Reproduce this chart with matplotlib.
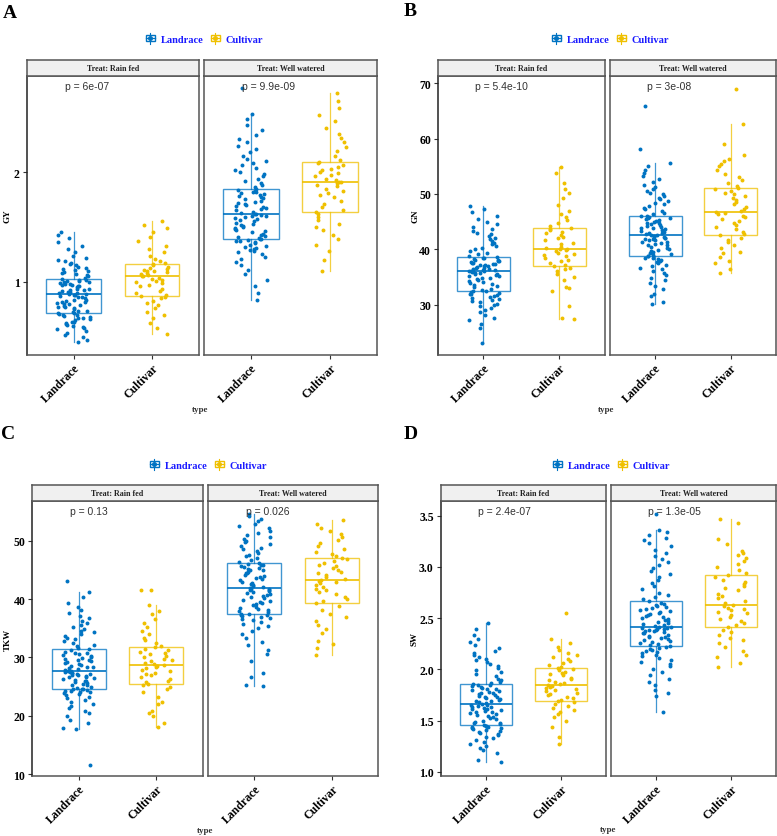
import numpy as np
import matplotlib
matplotlib.use("Agg")
import matplotlib.pyplot as plt
from matplotlib.legend_handler import HandlerBase
from matplotlib.lines import Line2D
from matplotlib.patches import Rectangle

W, H = 777, 837
SERIF = "Liberation Serif"
SANS = "Liberation Sans"
BLUE = "#0073C2"
GOLD = "#EFC000"

types = ["Landrace", "Cultivar"]
treats = ["Treat: Rain fed", "Treat: Well watered"]

# ---- GY (panel A) ----
gy_rf_landrace = [0.45, 0.47, 0.50, 0.52, 0.54, 0.55, 0.57, 0.58, 0.59, 0.60, 0.61, 0.62, 0.63, 0.64, 0.64, 0.65, 0.66, 0.67, 0.67, 0.68, 0.69, 0.70, 0.70, 0.71, 0.72,
                  0.72, 0.73, 0.74, 0.74, 0.75, 0.76, 0.77, 0.77, 0.78, 0.79, 0.80, 0.80, 0.81, 0.82, 0.82, 0.83, 0.84, 0.84, 0.85, 0.86, 0.86, 0.87, 0.88, 0.88, 0.89,
                  0.89, 0.90, 0.90, 0.91, 0.91, 0.92, 0.93, 0.93, 0.94, 0.94, 0.95, 0.96, 0.96, 0.97, 0.97, 0.98, 0.98, 0.99, 1.00, 1.00, 1.01, 1.01, 1.02, 1.02, 1.03,
                  1.04, 1.05, 1.06, 1.07, 1.08, 1.09, 1.10, 1.11, 1.12, 1.13, 1.14, 1.15, 1.16, 1.17, 1.19, 1.20, 1.22, 1.24, 1.27, 1.30, 1.33, 1.36, 1.40, 1.43, 1.45]
gy_rf_cultivar = [0.53, 0.58, 0.63, 0.67, 0.70, 0.73, 0.76, 0.79, 0.81, 0.83, 0.85, 0.86, 0.87,
                  0.88, 0.90, 0.92, 0.94, 0.96, 0.97, 0.99, 1.00, 1.01, 1.02, 1.03, 1.04, 1.05,
                  1.05, 1.06, 1.07, 1.08, 1.09, 1.10, 1.10, 1.11, 1.12, 1.13, 1.14, 1.15, 1.16,
                  1.17, 1.19, 1.21, 1.24, 1.27, 1.30, 1.33, 1.37, 1.41, 1.45, 1.49, 1.52, 1.55]
gy_ww_landrace = [0.84, 0.90, 0.96, 1.02, 1.07, 1.11, 1.15, 1.18, 1.21, 1.23, 1.25, 1.27, 1.28, 1.29, 1.30, 1.31, 1.32, 1.33, 1.34, 1.35, 1.36, 1.37, 1.37, 1.38, 1.39,
                  1.39, 1.40, 1.41, 1.42, 1.43, 1.44, 1.45, 1.46, 1.47, 1.48, 1.49, 1.50, 1.51, 1.52, 1.53, 1.54, 1.55, 1.56, 1.57, 1.58, 1.59, 1.60, 1.60, 1.61, 1.62,
                  1.62, 1.63, 1.64, 1.65, 1.66, 1.67, 1.68, 1.69, 1.70, 1.71, 1.72, 1.73, 1.74, 1.75, 1.76, 1.77, 1.78, 1.79, 1.80, 1.81, 1.82, 1.82, 1.83, 1.84, 1.85,
                  1.86, 1.88, 1.90, 1.92, 1.94, 1.96, 1.98, 2.00, 2.02, 2.04, 2.06, 2.08, 2.10, 2.12, 2.15, 2.18, 2.21, 2.24, 2.27, 2.30, 2.34, 2.38, 2.43, 2.48, 2.53, 2.76]
gy_ww_cultivar = [1.10, 1.20, 1.28, 1.34, 1.39, 1.43, 1.47, 1.50, 1.53, 1.56, 1.59, 1.62, 1.64,
                  1.65, 1.68, 1.71, 1.74, 1.77, 1.79, 1.81, 1.83, 1.85, 1.87, 1.88, 1.90, 1.91,
                  1.91, 1.93, 1.94, 1.96, 1.97, 1.99, 2.00, 2.02, 2.03, 2.05, 2.06, 2.08, 2.09,
                  2.11, 2.15, 2.19, 2.23, 2.27, 2.31, 2.35, 2.40, 2.46, 2.52, 2.58, 2.65, 2.72]
# box stats: whisker low, q1, median, q3, whisker high  (rain fed, well watered)
gy_box_landrace = [[0.45, 0.72, 0.89, 1.03, 1.45], [0.84, 1.39, 1.62, 1.845, 2.53]]
gy_box_cultivar = [[0.53, 0.87, 1.05, 1.16, 1.55], [1.10, 1.64, 1.91, 2.09, 2.72]]
gy_p = ["p = 6e-07", "p = 9.9e-09"]

# ---- GN (panel B) ----
gn_rf_landrace = [23.1, 25.8, 26.5, 27.3, 27.6, 28.1, 28.6, 29.0, 29.4, 29.7, 30.0, 30.2, 30.4, 30.6, 30.8, 31.0, 31.2, 31.4, 31.6, 31.8, 31.9, 32.0, 32.1, 32.3, 32.4,
                  32.5, 32.7, 32.9, 33.1, 33.3, 33.5, 33.7, 33.9, 34.1, 34.3, 34.5, 34.6, 34.8, 34.9, 35.1, 35.2, 35.4, 35.5, 35.6, 35.7, 35.8, 35.9, 36.0, 36.0, 36.1,
                  36.1, 36.2, 36.3, 36.4, 36.5, 36.6, 36.7, 36.8, 36.9, 37.0, 37.1, 37.2, 37.3, 37.4, 37.5, 37.6, 37.7, 37.8, 37.9, 38.0, 38.1, 38.2, 38.4, 38.5, 38.6,
                  38.8, 39.1, 39.4, 39.7, 40.0, 40.3, 40.6, 40.9, 41.2, 41.5, 41.8, 42.1, 42.4, 42.7, 43.0, 43.3, 43.7, 44.1, 44.5, 45.0, 45.5, 46.1, 46.7, 47.3, 47.9]
gn_rf_cultivar = [27.4, 27.6, 29.8, 32.4, 33.0, 33.2, 34.5, 35.0, 35.6, 36.0, 36.4, 36.7, 36.9,
                  37.1, 37.5, 37.8, 38.1, 38.4, 38.7, 38.9, 39.2, 39.4, 39.6, 39.8, 40.0, 40.1,
                  40.2, 40.5, 40.9, 41.2, 41.6, 42.0, 42.3, 42.6, 42.9, 43.1, 43.4, 43.6, 43.8,
                  44.2, 44.8, 45.3, 45.9, 46.4, 47.0, 48.0, 49.2, 50.1, 50.8, 52.0, 53.8, 54.8]
gn_ww_landrace = [30.1, 30.4, 31.5, 32.0, 32.9, 33.3, 33.9, 34.4, 34.9, 35.3, 35.7, 36.1, 36.4, 36.7, 37.0, 37.2, 37.5, 37.7, 37.9, 38.1, 38.3, 38.4, 38.5, 38.7, 38.8,
                  38.9, 39.1, 39.3, 39.5, 39.7, 39.9, 40.1, 40.3, 40.5, 40.7, 40.8, 41.0, 41.1, 41.3, 41.4, 41.6, 41.7, 41.8, 41.9, 42.0, 42.1, 42.2, 42.3, 42.4, 42.5,
                  42.6, 42.7, 42.9, 43.0, 43.2, 43.3, 43.5, 43.6, 43.8, 43.9, 44.1, 44.2, 44.4, 44.5, 44.7, 44.8, 45.0, 45.1, 45.3, 45.4, 45.6, 45.7, 45.9, 46.0, 46.1,
                  46.3, 46.6, 46.9, 47.2, 47.5, 47.8, 48.1, 48.4, 48.7, 49.0, 49.3, 49.6, 49.9, 50.2, 50.5, 50.9, 51.3, 51.7, 52.2, 52.7, 53.2, 53.8, 54.4, 55.0, 55.5, 58.1, 65.9]
gn_ww_cultivar = [35.7, 36.4, 37.5, 37.9, 38.6, 39.3, 39.5, 40.2, 40.8, 41.3, 41.7, 42.1, 42.5,
                  42.8, 43.2, 43.6, 44.0, 44.4, 44.8, 45.1, 45.4, 45.8, 46.1, 46.3, 46.5, 46.7,
                  46.9, 47.3, 47.7, 48.1, 48.5, 48.9, 49.2, 49.6, 49.9, 50.2, 50.5, 50.8, 51.0,
                  51.4, 52.0, 52.6, 53.0, 53.6, 54.3, 55.0, 55.4, 55.9, 56.3, 57.1, 59.0, 62.7, 68.9]
gn_box_landrace = [[23.1, 32.4, 36.1, 38.6, 47.9], [30.1, 38.8, 42.5, 46.1, 55.5]]
gn_box_cultivar = [[27.4, 36.9, 40.1, 43.8, 54.8], [35.7, 42.5, 46.7, 51.0, 62.7]]
gn_p = ["p = 5.4e-10", "p = 3e-08"]

# ---- TKW (panel C) ----
tkw_rf_landrace = [11.5, 17.7, 17.9, 18.8, 19.3, 19.9, 20.4, 20.8, 21.3, 21.7, 22.0, 22.4, 22.7, 23.0, 23.2, 23.5, 23.7, 23.9, 24.0, 24.1, 24.2, 24.3, 24.4, 24.5, 24.5,
                   24.6, 24.8, 25.0, 25.2, 25.3, 25.5, 25.6, 25.8, 25.9, 26.0, 26.2, 26.3, 26.4, 26.6, 26.7, 26.8, 26.9, 27.0, 27.1, 27.2, 27.3, 27.4, 27.5, 27.5, 27.6,
                   27.7, 27.8, 28.0, 28.1, 28.3, 28.4, 28.6, 28.7, 28.9, 29.0, 29.2, 29.3, 29.5, 29.6, 29.8, 29.9, 30.1, 30.2, 30.4, 30.5, 30.7, 30.8, 31.0, 31.2, 31.4,
                   31.6, 31.9, 32.2, 32.5, 32.8, 33.1, 33.4, 33.7, 34.0, 34.3, 34.6, 34.9, 35.2, 35.5, 35.9, 36.3, 36.7, 37.1, 37.6, 38.1, 38.6, 39.3, 40.3, 41.2, 43.1]
tkw_rf_cultivar = [18.1, 18.8, 19.9, 20.5, 20.8, 22.0, 22.3, 23.2, 24.1, 24.6, 25.0, 25.3, 25.5,
                   25.7, 26.0, 26.3, 26.6, 26.9, 27.2, 27.4, 27.7, 27.9, 28.2, 28.4, 28.6, 28.7,
                   28.8, 29.0, 29.3, 29.5, 29.8, 30.0, 30.3, 30.5, 30.8, 31.0, 31.3, 31.5, 31.7,
                   32.0, 32.4, 32.9, 33.4, 34.0, 34.6, 35.2, 35.9, 36.6, 37.4, 38.0, 38.9, 41.5, 41.6]
tkw_ww_landrace = [25.1, 25.3, 26.7, 27.3, 29.4, 30.5, 31.2, 32.2, 32.6, 33.4, 34.0, 34.6, 35.0, 35.4, 35.8, 36.1, 36.4, 36.6, 36.8, 37.0, 37.1, 37.2, 37.3, 37.4, 37.5,
                   37.7, 37.9, 38.1, 38.3, 38.5, 38.7, 38.9, 39.1, 39.3, 39.5, 39.7, 39.9, 40.1, 40.3, 40.5, 40.7, 40.8, 41.0, 41.2, 41.3, 41.5, 41.6, 41.7, 41.8, 41.9,
                   42.0, 42.2, 42.4, 42.6, 42.8, 43.0, 43.2, 43.4, 43.6, 43.8, 44.0, 44.2, 44.4, 44.5, 44.7, 44.9, 45.0, 45.2, 45.4, 45.5, 45.7, 45.8, 45.9, 46.0, 46.1,
                   46.4, 46.7, 47.0, 47.3, 47.6, 47.9, 48.2, 48.5, 48.8, 49.1, 49.4, 49.7, 50.0, 50.3, 50.6, 50.9, 51.3, 51.7, 52.1, 52.5, 52.9, 53.4, 53.8, 54.2, 54.6]
tkw_ww_cultivar = [30.4, 31.6, 32.3, 32.8, 34.2, 34.8, 35.5, 36.3, 36.9, 37.5, 38.2, 38.8, 39.3,
                   39.6, 40.0, 40.4, 40.8, 41.2, 41.5, 41.8, 42.1, 42.4, 42.7, 42.9, 43.1, 43.3,
                   43.5, 43.8, 44.1, 44.4, 44.7, 45.0, 45.3, 45.6, 45.9, 46.2, 46.5, 46.8, 47.0,
                   47.3, 47.7, 48.1, 48.6, 49.1, 49.6, 50.1, 50.6, 51.1, 51.6, 52.2, 52.9, 53.5]
tkw_box_landrace = [[17.7, 24.5, 27.6, 31.4, 41.25], [25.1, 37.5, 41.9, 46.1, 54.6]]
tkw_box_cultivar = [[18.1, 25.5, 28.7, 31.7, 38.9], [30.45, 39.3, 43.3, 47.0, 53.5]]
tkw_p = ["p = 0.13", "p = 0.026"]

# ---- SW (panel D) ----
sw_rf_landrace = [1.09, 1.11, 1.18, 1.21, 1.23, 1.25, 1.27, 1.29, 1.31, 1.33, 1.34, 1.36, 1.37, 1.38, 1.39, 1.40, 1.41, 1.42, 1.43, 1.43, 1.44, 1.44, 1.45, 1.45, 1.46,
                  1.47, 1.48, 1.48, 1.49, 1.50, 1.51, 1.52, 1.53, 1.54, 1.55, 1.56, 1.57, 1.58, 1.58, 1.59, 1.60, 1.61, 1.61, 1.62, 1.63, 1.63, 1.64, 1.65, 1.65, 1.66,
                  1.67, 1.68, 1.69, 1.69, 1.70, 1.71, 1.72, 1.73, 1.73, 1.74, 1.75, 1.76, 1.77, 1.77, 1.78, 1.79, 1.80, 1.81, 1.81, 1.82, 1.83, 1.84, 1.85, 1.85, 1.86,
                  1.87, 1.88, 1.90, 1.91, 1.93, 1.95, 1.97, 1.99, 2.01, 2.03, 2.05, 2.07, 2.09, 2.10, 2.12, 2.14, 2.16, 2.18, 2.21, 2.24, 2.27, 2.30, 2.34, 2.39, 2.45]
sw_rf_cultivar = [1.27, 1.34, 1.44, 1.50, 1.53, 1.56, 1.58, 1.60, 1.62, 1.64, 1.66, 1.68, 1.69,
                  1.70, 1.72, 1.73, 1.75, 1.76, 1.77, 1.79, 1.80, 1.81, 1.82, 1.83, 1.84, 1.85,
                  1.86, 1.87, 1.88, 1.90, 1.91, 1.92, 1.94, 1.95, 1.96, 1.97, 1.99, 2.00, 2.01,
                  2.02, 2.04, 2.06, 2.08, 2.10, 2.12, 2.14, 2.16, 2.19, 2.22, 2.26, 2.30, 2.55]
sw_ww_landrace = [1.58, 1.74, 1.77, 1.80, 1.85, 1.88, 1.91, 1.94, 1.97, 2.00, 2.03, 2.05, 2.07, 2.09, 2.11, 2.13, 2.14, 2.16, 2.17, 2.18, 2.19, 2.20, 2.21, 2.22, 2.23,
                  2.24, 2.25, 2.26, 2.27, 2.28, 2.29, 2.30, 2.31, 2.32, 2.32, 2.33, 2.34, 2.35, 2.35, 2.36, 2.37, 2.37, 2.38, 2.38, 2.39, 2.39, 2.40, 2.40, 2.41, 2.41,
                  2.42, 2.43, 2.44, 2.45, 2.46, 2.47, 2.48, 2.49, 2.50, 2.51, 2.52, 2.53, 2.54, 2.55, 2.56, 2.57, 2.58, 2.59, 2.60, 2.61, 2.62, 2.63, 2.64, 2.65, 2.67,
                  2.69, 2.71, 2.73, 2.75, 2.78, 2.81, 2.84, 2.87, 2.90, 2.93, 2.96, 2.99, 3.02, 3.05, 3.08, 3.11, 3.14, 3.17, 3.20, 3.23, 3.26, 3.28, 3.31, 3.34, 3.36, 3.52]
sw_ww_cultivar = [2.02, 2.06, 2.12, 2.14, 2.18, 2.22, 2.26, 2.29, 2.31, 2.34, 2.36, 2.38, 2.41,
                  2.43, 2.45, 2.47, 2.49, 2.51, 2.53, 2.55, 2.56, 2.58, 2.59, 2.60, 2.62, 2.63,
                  2.65, 2.67, 2.70, 2.72, 2.74, 2.77, 2.79, 2.81, 2.83, 2.85, 2.87, 2.90, 2.92,
                  2.94, 2.97, 3.00, 3.03, 3.06, 3.09, 3.12, 3.14, 3.16, 3.22, 3.27, 3.43, 3.47]
sw_box_landrace = [[1.09, 1.46, 1.66, 1.86, 2.45], [1.58, 2.23, 2.41, 2.67, 3.36]]
sw_box_cultivar = [[1.27, 1.69, 1.85, 2.01, 2.30], [2.02, 2.41, 2.63, 2.92, 3.47]]
sw_p = ["p = 2.4e-07", "p = 1.3e-05"]

# panel table built from the arrays above; geometry in pixels of the reference
panels = [
    dict(letter="A", ylab="GY", ylim=(0.336, 2.873), ticks=[1, 2], fmt="{:.0f}",
         pts=[[gy_rf_landrace, gy_rf_cultivar], [gy_ww_landrace, gy_ww_cultivar]],
         box=[gy_box_landrace, gy_box_cultivar], p=gy_p,
         facets=[(26.7, 199.0), (203.6, 377.3)], top=77, bot=356, lx=3, ly=13,
         leg=(204, 40), ylx=8, typ=(200, 410)),
    dict(letter="B", ylab="GN", ylim=(20.9, 71.3), ticks=[30, 40, 50, 60, 70], fmt="{:.0f}",
         pts=[[gn_rf_landrace, gn_rf_cultivar], [gn_ww_landrace, gn_ww_cultivar]],
         box=[gn_box_landrace, gn_box_cultivar], p=gn_p,
         facets=[(438.0, 604.7), (609.7, 776.0)], top=77, bot=356, lx=404, ly=12,
         leg=(610, 40), ylx=415, typ=(606, 410)),
    dict(letter="C", ylab="TKW", ylim=(9.66, 56.8), ticks=[10, 20, 30, 40, 50], fmt="{:.0f}",
         pts=[[tkw_rf_landrace, tkw_rf_cultivar], [tkw_ww_landrace, tkw_ww_cultivar]],
         box=[tkw_box_landrace, tkw_box_cultivar], p=tkw_p,
         facets=[(32.3, 202.7), (207.7, 378.3)], top=502, bot=777, lx=1, ly=435,
         leg=(208, 466), ylx=8, typ=(205, 831)),
    dict(letter="D", ylab="SW", ylim=(0.958, 3.644), ticks=[1.0, 1.5, 2.0, 2.5, 3.0, 3.5], fmt="{:.1f}",
         pts=[[sw_rf_landrace, sw_rf_cultivar], [sw_ww_landrace, sw_ww_cultivar]],
         box=[sw_box_landrace, sw_box_cultivar], p=sw_p,
         facets=[(440.7, 606.3), (610.7, 776.3)], top=502, bot=777, lx=404, ly=435,
         leg=(611, 466), ylx=415, typ=(608, 830)),
]


def rect(x0, y0, x1, y1):
    return [x0 / W, 1 - y1 / H, (x1 - x0) / W, (y1 - y0) / H]


class BoxGlyph(HandlerBase):
    # little boxplot symbol used as legend key
    def create_artists(self, legend, orig_handle, xdescent, ydescent,
                       width, height, fontsize, trans):
        c = orig_handle.get_color()
        cx = width / 2 - xdescent
        cy = height / 2 - ydescent
        bw, bh = width * 0.8, height * 0.8
        whisk = Line2D([cx, cx], [cy - height * 0.7, cy + height * 0.7], color=c, lw=0.8, transform=trans)
        box = Rectangle((cx - bw / 2, cy - bh / 2), bw, bh, fill=True, fc="white", ec=c, lw=1.0, transform=trans)
        med = Line2D([cx - bw / 2, cx + bw / 2], [cy, cy], color=c, lw=0.9, transform=trans)
        dot = Line2D([cx], [cy], marker="o", ms=2.6, color=c, lw=0, transform=trans)
        return [whisk, box, med, dot]


fig = plt.figure(figsize=(W / 100, H / 100), dpi=100)
rng = np.random.default_rng(7)
colors = [BLUE, GOLD]

for pan in panels:
    strip_h = 16
    for fi, (x0, x1) in enumerate(pan["facets"]):
        ax = fig.add_axes(rect(x0, pan["top"], x1, pan["bot"]))
        for gi in range(2):
            q = pan["box"][gi][fi]
            stats = [dict(whislo=q[0], q1=q[1], med=q[2], q3=q[3], whishi=q[4])]
            c = colors[gi]
            ax.bxp(stats, positions=[gi + 1], widths=0.7, showfliers=False, showcaps=False,
                   patch_artist=True,
                   boxprops=dict(facecolor="white", edgecolor=c, linewidth=1.0, alpha=0.75),
                   whiskerprops=dict(color=c, linewidth=0.9, alpha=0.75),
                   medianprops=dict(color=c, linewidth=1.2))
            y = np.array(pan["pts"][fi][gi])
            xj = gi + 1 + rng.uniform(-0.21, 0.21, len(y))
            ax.scatter(xj, y, s=8, color=c, linewidths=0, zorder=3)
        ax.set_xlim(0.4, 2.6)
        ax.set_ylim(*pan["ylim"])
        ax.set_xticks([1, 2])
        ax.set_xticklabels(types, rotation=45, ha="right", rotation_mode="anchor",
                           fontfamily=SERIF, fontweight="bold", fontsize=8.5)
        ax.tick_params(axis="x", length=3, width=0.8, color="#333333", pad=2)
        if fi == 0:
            ax.set_yticks(pan["ticks"])
            ax.set_yticklabels([pan["fmt"].format(t) for t in pan["ticks"]],
                               fontfamily=SERIF, fontweight="bold", fontsize=8.5)
            ax.tick_params(axis="y", length=3, width=0.8, color="#333333", pad=2)
        else:
            ax.set_yticks([])
        for sp in ax.spines.values():
            sp.set_color("#555555")
            sp.set_linewidth(1.1)
        if fi == 0:
            ax.spines["left"].set_color("#222222")
        # p value label: x in data units, y in axes fraction
        ax.text(0.89, 0.965, pan["p"][fi], transform=ax.get_xaxis_transform(),
                ha="left", va="center", fontfamily=SANS, fontsize=7.5, color="#333333", zorder=4)

        # facet strip
        sax = fig.add_axes(rect(x0, pan["top"] - strip_h, x1, pan["top"]))
        sax.set_facecolor("#F0F0F0")
        sax.set_xticks([])
        sax.set_yticks([])
        for sp in sax.spines.values():
            sp.set_color("#555555")
            sp.set_linewidth(1.1)
        sax.text(0.5, 0.5, treats[fi], ha="center", va="center", transform=sax.transAxes,
                 fontfamily=SERIF, fontweight="bold", fontsize=5.8, color="#222222")

    # panel letter, axis titles, legend
    fig.text(pan["lx"] / W, 1 - pan["ly"] / H, pan["letter"], ha="left", va="center",
             fontfamily=SERIF, fontweight="bold", fontsize=14)
    fig.text(pan["ylx"] / W, 1 - (pan["top"] + pan["bot"]) / 2 / H, pan["ylab"], rotation=90,
             ha="center", va="center", fontfamily=SERIF, fontweight="bold", fontsize=6.5)
    fig.text(pan["typ"][0] / W, 1 - pan["typ"][1] / H, "type", ha="center", va="center",
             fontfamily=SERIF, fontweight="bold", fontsize=6.5, color="#333333")
    handles = [Line2D([], [], color=c) for c in colors]
    fig.legend(handles, types, loc="center", ncol=2, frameon=False,
               bbox_to_anchor=(pan["leg"][0] / W, 1 - pan["leg"][1] / H),
               handler_map={Line2D: BoxGlyph()}, handlelength=1.1, handleheight=0.8,
               handletextpad=0.45, columnspacing=0.6, borderpad=0.2, labelcolor="#1a1aff",
               prop=dict(family=SERIF, weight="bold", size=7.5))

fig.savefig("out.png", dpi=100)
